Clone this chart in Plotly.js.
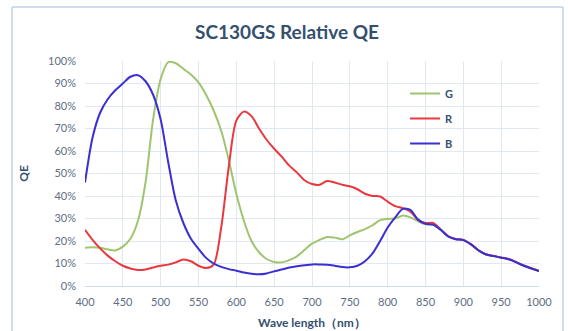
<!DOCTYPE html>
<html>
<head>
<meta charset="utf-8">
<script src="https://cdn.plot.ly/plotly-3.0.1.min.js"></script>
<style>
html,body{margin:0;padding:0;background:#fff;}
#chart{width:568px;height:331px;}
</style>
</head>
<body>
<div id="chart"></div>
<script>
const wavelength = [400,410,420,430,440,450,460,470,480,490,500,510,520,530,540,550,560,570,580,590,600,610,620,630,640,650,660,670,680,690,700,710,720,730,740,750,760,770,780,790,800,810,820,830,840,850,860,870,880,890,900,910,920,930,940,950,960,970,980,990,1000];
const qeG = [17,17.2,17,16.3,15.8,17.5,21,29,46,74,92,99.5,99,96.5,94,90.5,85,78,69,56,41,29,20,15,12,10.7,10.5,11.5,13.2,16,18.8,20.5,21.8,21.5,20.8,22.5,24,25.3,27,29.3,29.8,30,31.3,30.5,28.8,27.4,27.2,25,22,20.8,20.4,18.5,15.8,14,13.3,12.6,11.9,10.5,9,7.8,6.6];
const qeR = [25,20.5,16.7,13.5,11,9,7.8,7.1,7.3,8.2,9,9.5,10.5,11.8,11,9,8,9.5,26,53,73.5,77.5,75.5,70,65,61,57.5,53.5,50.5,47,45.3,45,46.7,46,45,44.3,43,41,40,39.8,37.5,35.5,34.6,33,29.5,28,28,25.2,22.2,20.9,20.5,18.6,15.9,14.1,13.4,12.7,12,10.6,9.1,7.9,6.7];
const qeB = [46,66,77,83,87,90,93,93.7,91,85,74,55,38,28,21,16.5,12.5,10,8.5,7.5,6.8,6,5.4,5.2,5.6,6.5,7.3,8.2,8.8,9.2,9.6,9.6,9.5,9,8.4,8.3,9,11,14.5,20,26,30.5,34.3,33.8,29.5,27.6,27.3,25,22,20.8,20.4,18.5,15.8,14,13.3,12.6,11.9,10.5,9,7.8,6.6];
const seriesNames = ['G','R','B'];
const xTicks = [400,450,500,550,600,650,700,750,800,850,900,950,1000];
const yTicks = [0,10,20,30,40,50,60,70,80,90,100];

const colors = ['#9fc56f','#e8393f','#3a2fd2'];
const series = [qeG, qeR, qeB];
const traces = series.map((s,i)=>({
  x: wavelength, y: s, type:'scatter', mode:'lines', name: seriesNames[i],
  legendgroup: seriesNames[i],
  line:{color:colors[i], width:2, shape:'spline', smoothing:0.8}
}));

const font = 'Lato, "Open Sans", "DejaVu Sans", sans-serif';
const frameColor = '#bfd2ea';
const layout = {
  width:568, height:331,
  margin:{l:85, r:29, t:61, b:45},
  paper_bgcolor:'#ffffff', plot_bgcolor:'#ffffff',
  font:{family:font, color:'#5d6d84', size:11},
  title:{text:'<b>SC130GS Relative QE</b>', x:0.445, xref:'paper', xanchor:'center', y:0.903, yref:'container', yanchor:'middle', font:{family:font, size:19, color:'#34506f'}},
  xaxis:{range:[400,1000], tickvals:xTicks, ticktext:xTicks.map(String), showgrid:true, gridcolor:'#e1e8f2', gridwidth:1,
    zeroline:false, showline:true, linecolor:'#cfdcec', linewidth:1, ticks:'', ticklabelstandoff:6, tickfont:{size:11, color:'#5d6d84'},
    title:{text:'<b>Wave length（nm）</b>', font:{size:12, color:'#34506f'}, standoff:11}},
  yaxis:{range:[0,100], tickvals:yTicks, ticktext:yTicks.map(v=>v+'%'), showgrid:true, gridcolor:'#e1e8f2', gridwidth:1,
    zeroline:false, showline:false, ticks:'', ticklabelstandoff:8, tickfont:{size:11, color:'#5d6d84'},
    title:{text:'<b>QE</b>', font:{size:12, color:'#34506f'}, standoff:16}},
  showlegend:true,
  legend:{x:0.705, y:0.92, xanchor:'left', yanchor:'top', bgcolor:'rgba(0,0,0,0)', traceorder:'grouped', tracegroupgap:6,
    font:{family:font, size:11, color:'#34506f', weight:'bold'}},
  shapes:[
    {type:'line', xref:'paper', yref:'paper', x0:-0.1608, x1:1.0529, y0:1.24, y1:1.24, line:{color:frameColor, width:1.5}},
    {type:'line', xref:'paper', yref:'paper', x0:-0.1608, x1:-0.1608, y0:-0.2, y1:1.24, line:{color:frameColor, width:1.5}},
    {type:'line', xref:'paper', yref:'paper', x0:1.0529, x1:1.0529, y0:-0.2, y1:1.24, line:{color:frameColor, width:1.5}}
  ]
};
Plotly.newPlot('chart', traces, layout, {displayModeBar:false, staticPlot:true});
</script>
</body>
</html>
